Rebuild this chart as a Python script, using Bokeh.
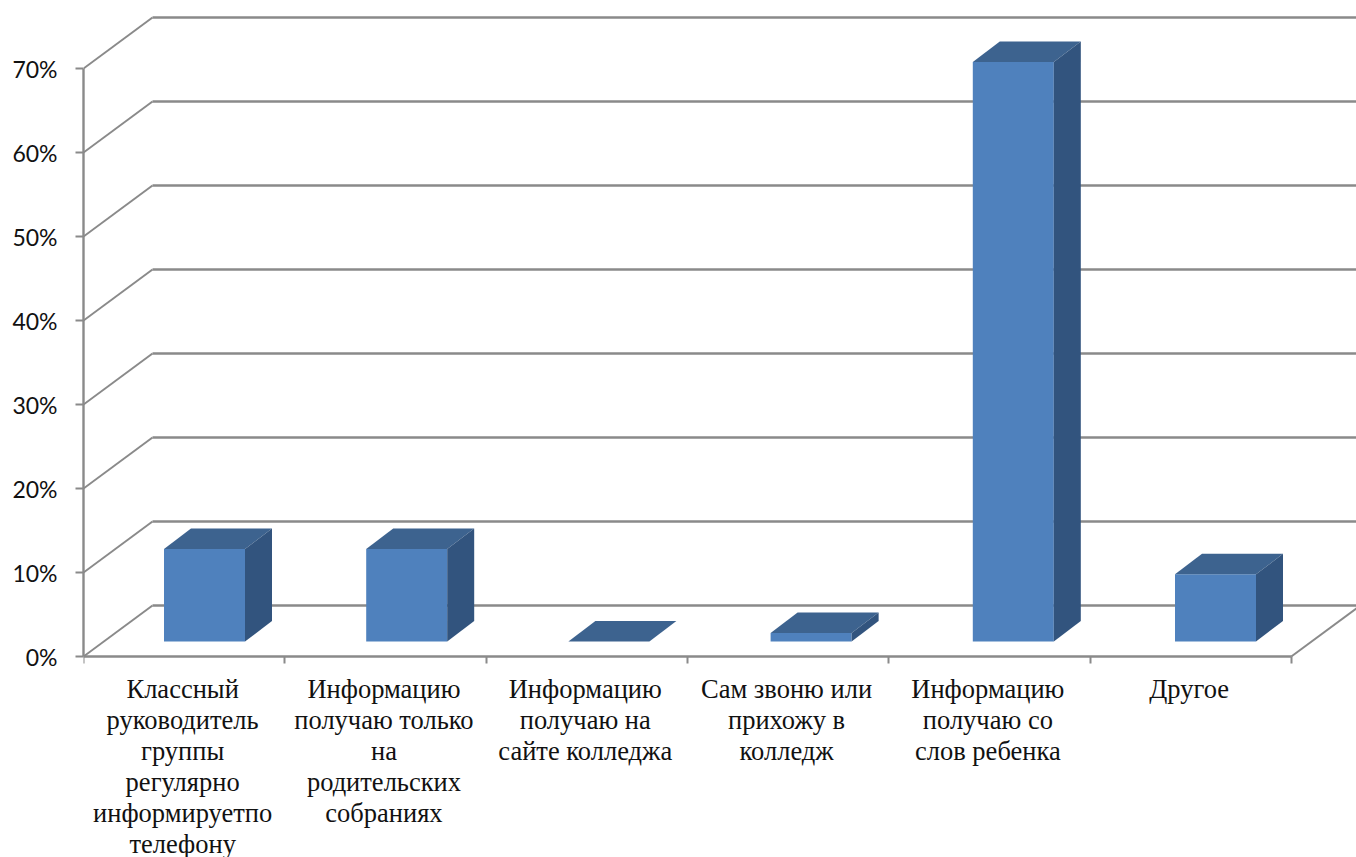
from bokeh.embed import file_html
from bokeh.resources import INLINE
from bokeh.plotting import figure
from bokeh.models import FixedTicker, ColumnDataSource
from bokeh.core.properties import value

category_lines = [
    ["Классный", "руководитель", "группы", "регулярно", "информируетпо", "телефону"],
    ["Информацию", "получаю только", "на", "родительских", "собраниях"],
    ["Информацию", "получаю на", "сайте колледжа"],
    ["Сам звоню или", "прихожу в", "колледж"],
    ["Информацию", "получаю со", "слов ребенка"],
    ["Другое"],
]
values = [11, 11, 0, 1, 69, 8]
y_ticks = [0, 10, 20, 30, 40, 50, 60, 70]
y_tick_labels = {t: f"{t}%" for t in y_ticks}

# scale and pseudo-3D geometry, expressed in data units
PX_X, PX_Y = 201.3, 8.4
X_MAX, Y_MAX, Y_MIN = (1356 - 83) / PX_X, 656 / PX_Y, -(857 - 656) / PX_Y
WALL_DX, WALL_DY = 69 / PX_X, 51 / PX_Y
BAR_DX, BAR_DY = 27 / PX_X, 20.5 / PX_Y
BAR_OFF, BAR_W, BAR_BASE = 80.5 / PX_X, 81 / PX_X, 15 / PX_Y
BAR_STEP = 202.2 / PX_X
GRID = "#8a8a8a"

p = figure(width=1356, height=857, output_backend="svg", toolbar_location=None,
           x_range=(0, X_MAX), y_range=(Y_MIN, Y_MAX), min_border=0,
           min_border_left=83, outline_line_color=None)
p.grid.visible = False

# walls: diagonals from the front axis, then lines along the back wall
for t in y_ticks:
    p.line([0, WALL_DX], [t, t + WALL_DY], line_color=GRID, line_width=2)
    p.line([WALL_DX, X_MAX + 1], [t + WALL_DY, t + WALL_DY], line_color=GRID,
           line_width=2.4)
n = len(values)
p.line([n, n + WALL_DX], [0, WALL_DY], line_color=GRID, line_width=2)

# bars
lefts = [i * BAR_STEP + BAR_OFF for i in range(n)]
rights = [x + BAR_W for x in lefts]
p.quad(left=lefts, right=rights, bottom=[BAR_BASE] * n,
       top=[BAR_BASE + v for v in values], fill_color="#4f81bd", line_color=None)
p.patches(
    [[x, x + BAR_W, x + BAR_W + BAR_DX, x + BAR_DX] for x in lefts],
    [[BAR_BASE + v, BAR_BASE + v, BAR_BASE + v + BAR_DY, BAR_BASE + v + BAR_DY] for v in values],
    fill_color="#3d638f", line_color=None)
p.patches(
    [[x, x + BAR_DX, x + BAR_DX, x] for x in rights],
    [[BAR_BASE, BAR_BASE + BAR_DY, BAR_BASE + v + BAR_DY, BAR_BASE + v] for v in values],
    fill_color="#32547e", line_color=None)

# axes
xa = p.xaxis[0]
xa.fixed_location = 0
xa.bounds = (0, n)
xa.ticker = FixedTicker(ticks=list(range(n + 1)))
xa.major_label_text_font_size = "0px"
xa.major_label_text_color = None
xa.major_tick_in = 0
xa.major_tick_out = 7
xa.minor_tick_line_color = None
xa.axis_line_color = GRID
xa.axis_line_width = 2.4
xa.major_tick_line_color = GRID
xa.major_tick_line_width = 2

ya = p.yaxis[0]
ya.bounds = (0, 70)
ya.ticker = FixedTicker(ticks=y_ticks)
ya.major_label_overrides = y_tick_labels
ya.major_label_text_font = "Lato"
ya.major_label_text_font_size = "23px"
ya.major_label_text_color = "#111111"
ya.major_label_standoff = 18
ya.major_tick_in = 0
ya.major_tick_out = 8
ya.minor_tick_line_color = None
ya.axis_line_color = GRID
ya.axis_line_width = 2.4
ya.major_tick_line_color = GRID
ya.major_tick_line_width = 2

# category labels, one row per line
LINE_STEP, FIRST_LINE = 31 / PX_Y, -(688 - 656) / PX_Y
LABEL_SHIFT = -1.5 / PX_X
lx, ly, lt = [], [], []
for i, lines in enumerate(category_lines):
    for j, line in enumerate(lines):
        lx.append(i + 0.5 + LABEL_SHIFT)
        ly.append(FIRST_LINE - j * LINE_STEP)
        lt.append(line)
p.text(x="x", y="y", text="t", source=ColumnDataSource(dict(x=lx, y=ly, t=lt)),
       text_align="center", text_baseline="middle", text_color="#111111",
       text_font=value("Liberation Serif"), text_font_size="26.5px")

open("out.html", "w").write(file_html(p, INLINE))
